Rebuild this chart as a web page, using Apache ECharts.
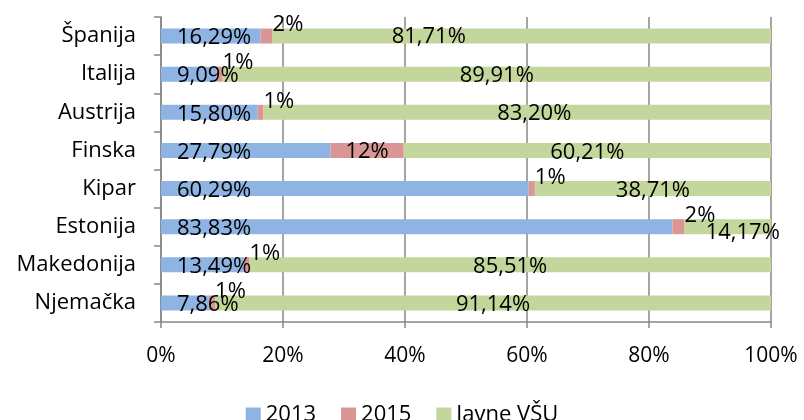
<!DOCTYPE html>
<html>
<head>
<meta charset="utf-8">
<script src="https://cdn.jsdelivr.net/npm/echarts@6/dist/echarts.min.js"></script>
<style>
  html, body { margin: 0; padding: 0; background: #fff; }
  #main { width: 804px; height: 420px; }
</style>
</head>
<body>
<div id="main"></div>
<script>
var countries = ['Španija', 'Italija', 'Austrija', 'Finska', 'Kipar', 'Estonija', 'Makedonija', 'Njemačka'];
var v2013 = [16.29, 9.09, 15.80, 27.79, 60.29, 83.83, 13.49, 7.86];
var v2015 = [2, 1, 1, 12, 1, 2, 1, 1];
var javne = [81.71, 89.91, 83.20, 60.21, 38.71, 14.17, 85.51, 91.14];
var xTicks = [0, 20, 40, 60, 80, 100];

// label tweaks (moved by hand in the original)
var greenShift = { 'Španija': [-93, 1], 'Austrija': [17, 1], 'Estonija': [15, 6] };

var FONT = 'Open Sans';
var chart = echarts.init(document.getElementById('main'));

function pct(d) {
  return function (p) { return p.value.toFixed(d).replace('.', ',') + '%'; };
}

var redData = v2015.map(function (v, i) {
  if (v >= 5) return { value: v, label: { position: 'inside', offset: [0, 1] } };
  return v;
});
var greenData = javne.map(function (v, i) {
  var s = greenShift[countries[i]];
  return s ? { value: v, label: { offset: s } } : v;
});

var lbl = { color: '#000', fontFamily: FONT, fontSize: 22 };

var option = {
  animation: false,
  backgroundColor: '#fff',
  grid: { left: 161, right: 33, top: 17, bottom: 98 },
  legend: {
    top: 399,
    left: 'center',
    icon: 'rect',
    itemWidth: 15,
    itemHeight: 15,
    itemGap: 25,
    textStyle: { color: '#000', fontFamily: FONT, fontSize: 22 },
    data: ['2013', '2015', 'Javne VŠU']
  },
  xAxis: {
    type: 'value',
    min: 0, max: 100, interval: 20,
    axisLine: { show: true, lineStyle: { color: '#868686', width: 1.5 } },
    axisTick: { show: true, length: 6, lineStyle: { color: '#868686', width: 1.5 } },
    splitLine: { show: true, lineStyle: { color: '#868686', width: 1.5 } },
    axisLabel: {
      margin: 24, color: '#000', fontFamily: FONT, fontSize: 21,
      formatter: function (v) { return xTicks.indexOf(v) >= 0 ? v + '%' : ''; }
    }
  },
  yAxis: {
    type: 'category',
    inverse: true,
    data: countries,
    axisLine: { show: true, lineStyle: { color: '#868686', width: 1.5 } },
    axisTick: { show: true, length: 7, lineStyle: { color: '#868686', width: 1.5 } },
    axisLabel: { margin: 25, color: '#000', fontFamily: FONT, fontSize: 22 }
  },
  series: [{
    name: '2013', type: 'bar', stack: 'a', barWidth: 15,
    itemStyle: { color: '#8EB4E3' },
    label: Object.assign({ show: true, position: 'insideLeft', distance: 16, offset: [0, 2], formatter: pct(2) }, lbl),
    data: v2013
  }, {
    name: '2015', type: 'bar', stack: 'a', barWidth: 15,
    itemStyle: { color: '#D99694' },
    label: Object.assign({ show: true, position: 'right', distance: 0, offset: [0, -11], formatter: pct(0) }, lbl),
    data: redData
  }, {
    name: 'Javne VŠU', type: 'bar', stack: 'a', barWidth: 15,
    itemStyle: { color: '#C3D69B' },
    label: Object.assign({ show: true, position: 'inside', offset: [0, 2], formatter: pct(2) }, lbl),
    data: greenData
  }]
};

chart.setOption(option);
</script>
</body>
</html>
